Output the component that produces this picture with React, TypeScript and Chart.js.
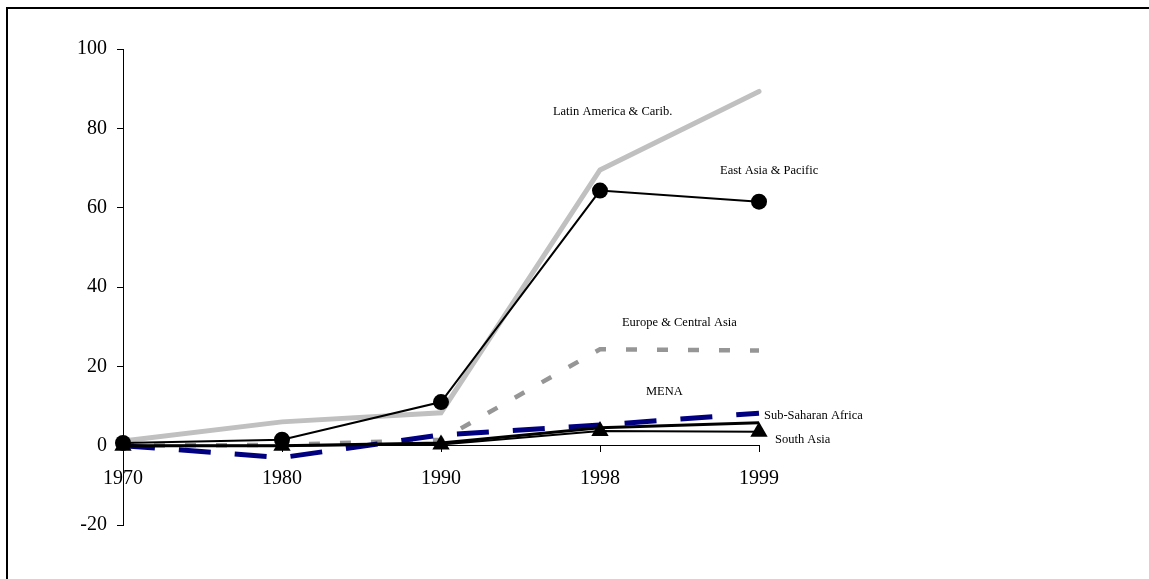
import React, { useEffect, useRef } from "react";
import { Chart, registerables } from "chart.js";

Chart.register(...registerables);

const categories = ["1970", "1980", "1990", "1998", "1999"];
const latinAmerica = [1.2, 6, 8.3, 69.5, 89.3];
const eastAsia = [0.7, 1.5, 11, 64.3, 61.5];
const europeCentralAsia = [0, 0.2, 1.5, 24.3, 24];
const mena = [0, -3, 2.7, 5.2, 8.2];
const subSaharan = [0, 0, 0.7, 4.5, 5.8];
const southAsia = [0, 0, 0.3, 3.7, 3.5];

const yMin = -20;
const yMax = 100;
const yStep = 20;

// Annotation labels: text, x position (category index), y value
const labelTexts = [
  "Latin America & Carib.",
  "East Asia & Pacific",
  "Europe & Central Asia",
  "MENA",
  "Sub-Saharan Africa",
  "South Asia",
];
const labelX = [2.704, 3.755, 3.138, 3.289, 4.031, 4.101];
const labelY = [84.2, 69.3, 31.0, 13.6, 7.6, 1.5];

const SERIF = "'Liberation Serif', 'Times New Roman', serif";

const labelPlugin = {
  id: "seriesLabels",
  afterDatasetsDraw(chart: any) {
    const { ctx, scales } = chart;
    ctx.save();
    ctx.fillStyle = "#000";
    ctx.font = `12.5px ${SERIF}`;
    ctx.textAlign = "left";
    ctx.textBaseline = "middle";
    labelTexts.forEach((t, i) => {
      const px = scales.x.getPixelForValue(labelX[i]);
      const py = scales.y.getPixelForValue(labelY[i]);
      ctx.fillText(t, px, py);
    });
    ctx.restore();
  },
};

export default function App() {
  const ref = useRef<HTMLCanvasElement | null>(null);

  useEffect(() => {
    if (!ref.current) return;
    const chart = new Chart(ref.current, {
      type: "line",
      data: {
        labels: categories,
        datasets: [
          {
            label: "East Asia & Pacific",
            data: eastAsia,
            borderColor: "#000",
            backgroundColor: "#000",
            borderWidth: 2,
            pointStyle: "circle",
            pointRadius: 8,
            pointBorderWidth: 0,
            tension: 0,
            clip: false as any,
          },
          {
            label: "South Asia",
            data: southAsia,
            borderColor: "#000",
            backgroundColor: "#000",
            borderWidth: 2,
            pointStyle: "triangle",
            pointRadius: 10,
            pointBorderWidth: 0,
            tension: 0,
            clip: false as any,
          },
          {
            label: "Sub-Saharan Africa",
            data: subSaharan,
            borderColor: "#000",
            borderWidth: 3,
            pointRadius: 0,
            tension: 0,
            clip: false as any,
          },
          {
            label: "MENA",
            data: mena,
            borderColor: "#000080",
            borderWidth: 5,
            borderDash: [32, 24],
            pointRadius: 0,
            tension: 0,
            clip: false as any,
          },
          {
            label: "Europe & Central Asia",
            data: europeCentralAsia,
            borderColor: "#969696",
            borderWidth: 4.5,
            borderDash: [11, 20],
            pointRadius: 0,
            tension: 0,
            clip: false as any,
          },
          {
            label: "Latin America & Carib.",
            data: latinAmerica,
            borderColor: "#c0c0c0",
            borderWidth: 5,
            pointRadius: 0,
            tension: 0,
            borderCapStyle: "round",
            clip: false as any,
          },
        ],
      },
      options: {
        animation: false,
        responsive: false,
        maintainAspectRatio: false,
        layout: { padding: { left: 0, top: 49, right: 390, bottom: 54 } },
        plugins: {
          legend: { display: false },
          tooltip: { enabled: false },
        },
        scales: {
          x: {
            type: "category",
            position: { y: 0 } as any,
            offset: false,
            grid: {
              display: true,
              drawOnChartArea: false,
              drawTicks: true,
              tickLength: 6,
              color: "#000",
            },
            border: { display: true, color: "#000", width: 1 },
            ticks: {
              color: "#000",
              font: { family: SERIF, size: 20 },
              padding: 15,
              maxRotation: 0,
              autoSkip: false,
            },
          },
          y: {
            min: yMin,
            max: yMax,
            afterFit(scale: any) {
              scale.width = 123;
            },
            grid: {
              display: true,
              drawOnChartArea: false,
              drawTicks: true,
              tickLength: 6,
              color: "#000",
            },
            border: { display: true, color: "#000", width: 1 },
            ticks: {
              stepSize: yStep,
              color: "#000",
              font: { family: SERIF, size: 20 },
              padding: 10,
            },
          },
        },
      },
      plugins: [labelPlugin],
    });
    return () => chart.destroy();
  }, []);

  return (
    <div
      style={{
        position: "fixed",
        left: 0,
        top: 0,
        width: 1149,
        height: 579,
        background: "#fff",
        overflow: "hidden",
      }}
    >
      <canvas
        ref={ref}
        width={1149}
        height={579}
        style={{ position: "absolute", left: 0, top: 0, width: 1149, height: 579 }}
      />
      <div
        style={{
          position: "absolute",
          left: 6,
          top: 7,
          width: 2000,
          height: 2000,
          borderTop: "2px solid #000",
          borderLeft: "2px solid #000",
          pointerEvents: "none",
        }}
      />
    </div>
  );
}
